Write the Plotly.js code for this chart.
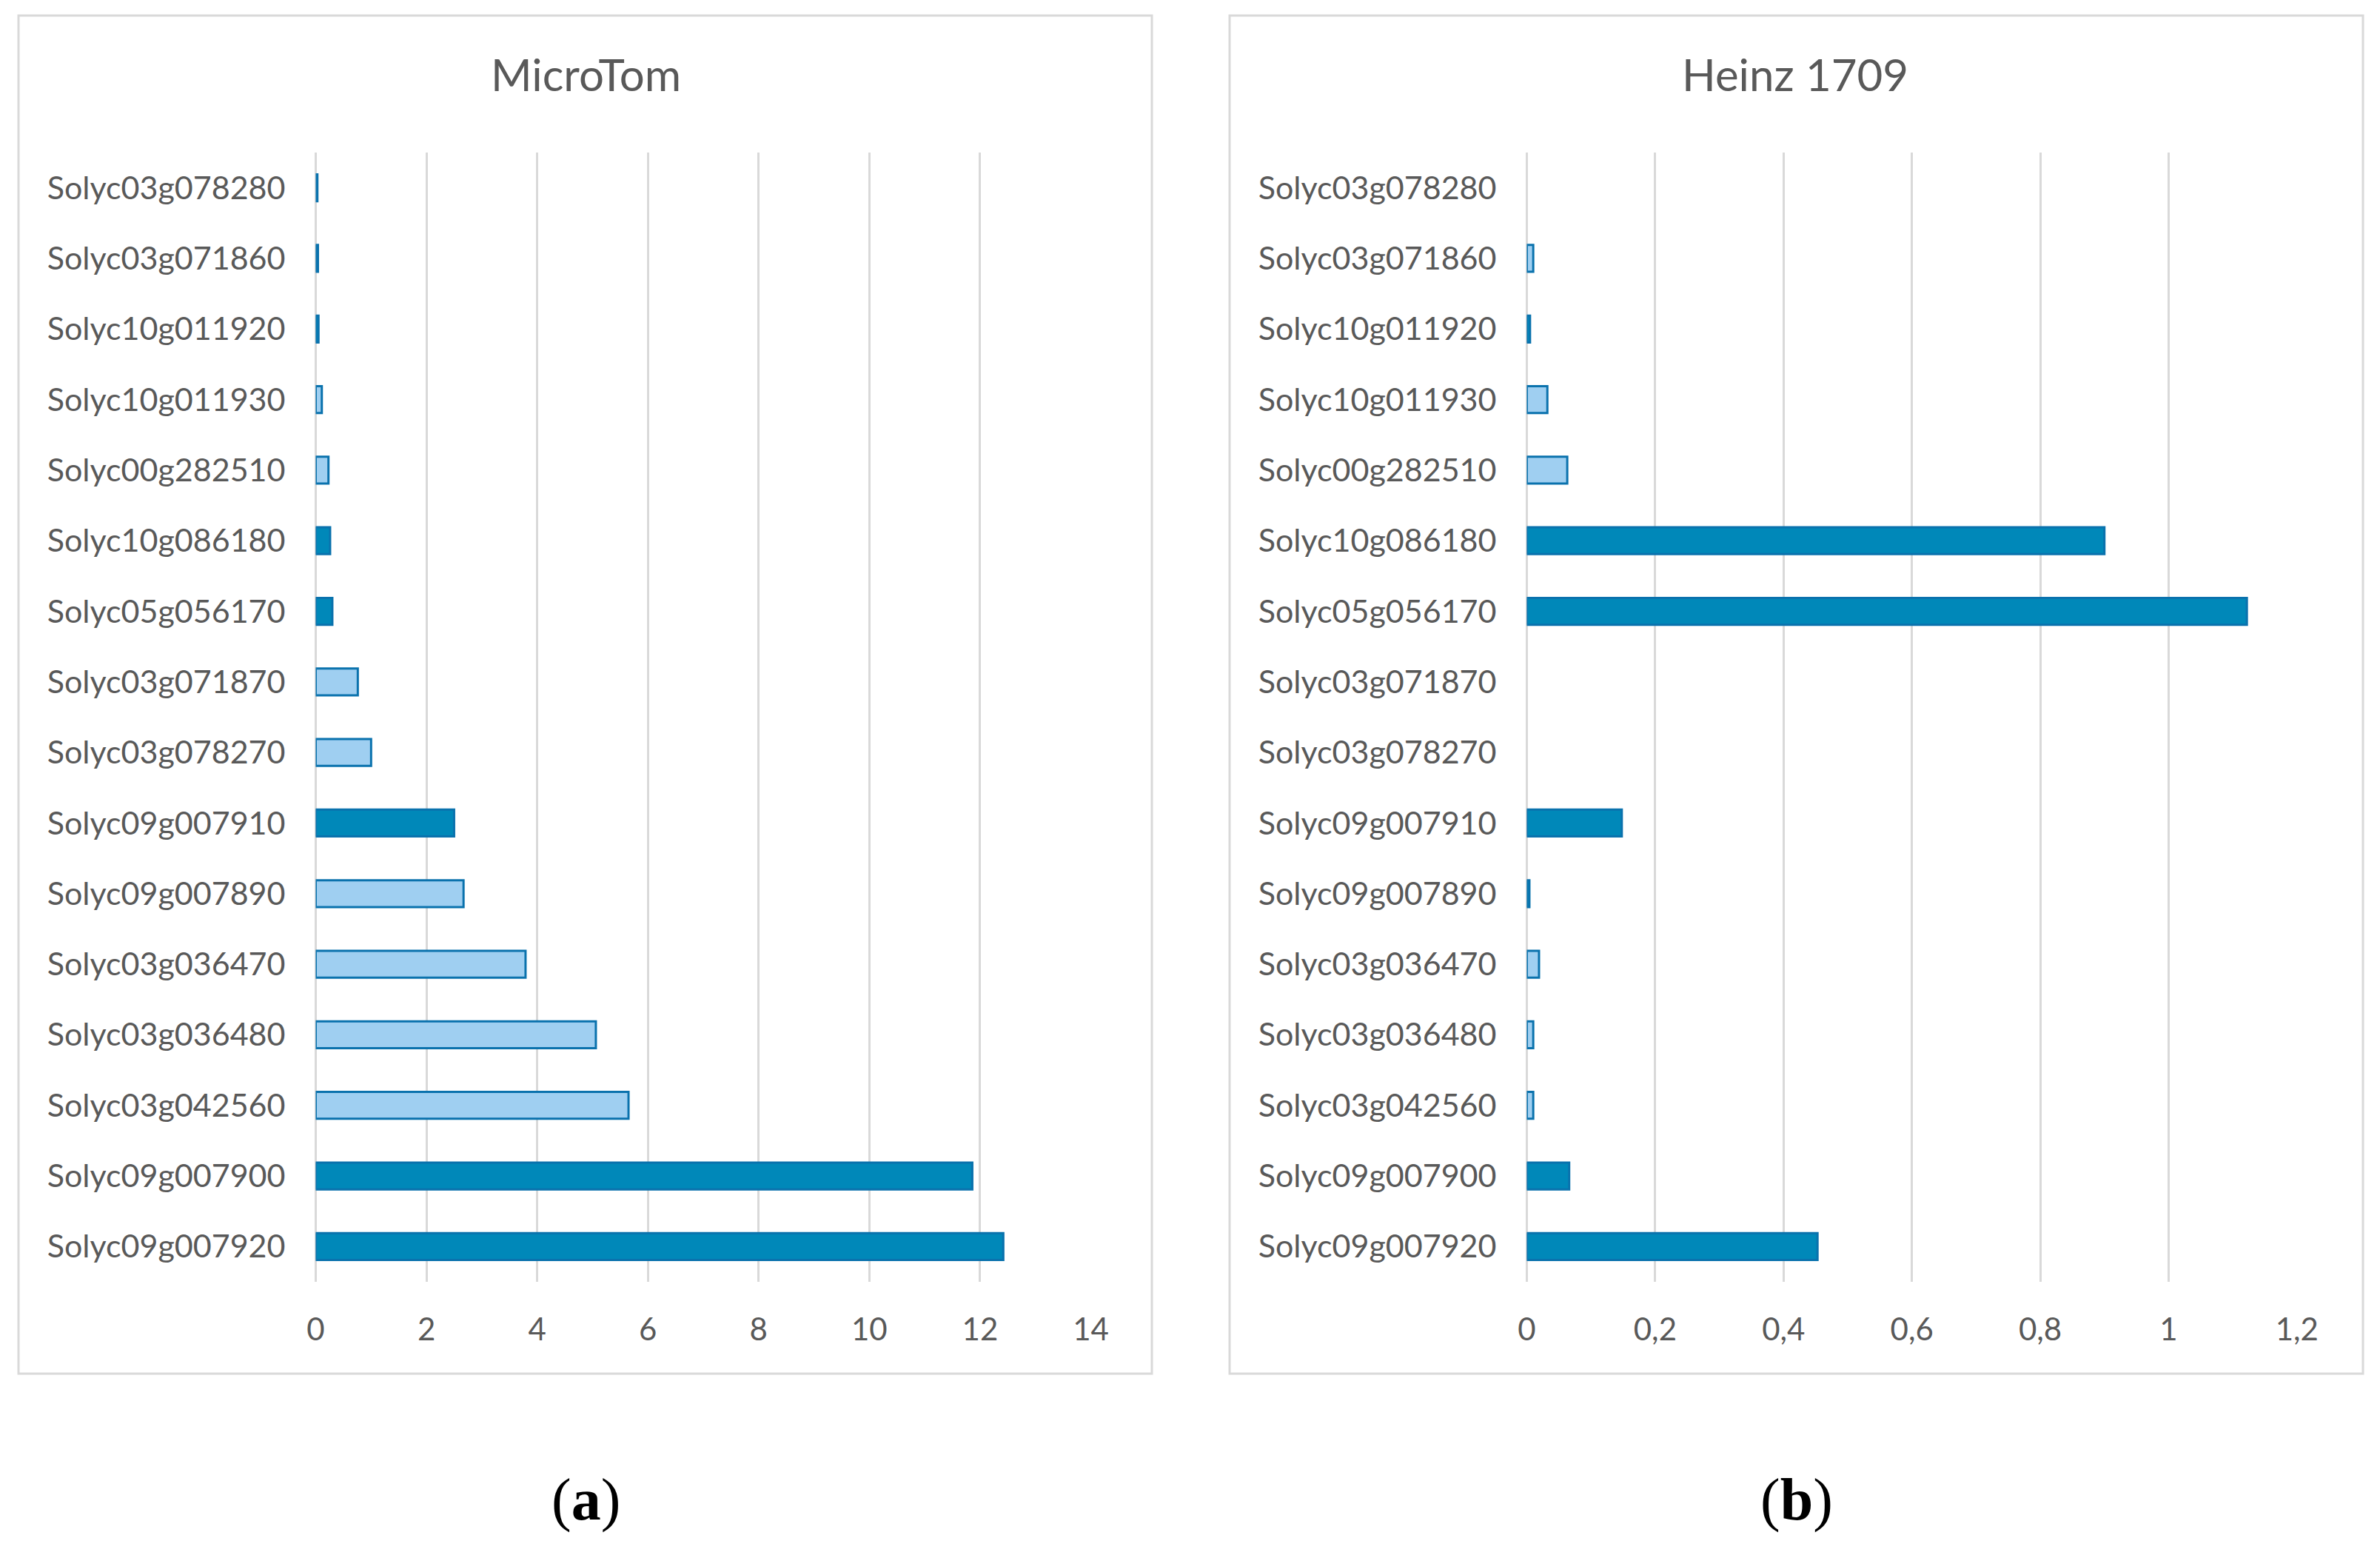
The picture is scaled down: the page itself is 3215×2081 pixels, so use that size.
<!DOCTYPE html>
<html>
<head>
<meta charset="utf-8">
<script src="https://cdn.plot.ly/plotly-3.0.1.min.js"></script>
<style>html,body{margin:0;padding:0;background:#fff;}#chart{width:3215px;height:2081px;}</style>
</head>
<body>
<div id="chart"></div>
<script>
// Gene categories, top to bottom as drawn
const genes = ["Solyc03g078280","Solyc03g071860","Solyc10g011920","Solyc10g011930","Solyc00g282510","Solyc10g086180","Solyc05g056170","Solyc03g071870","Solyc03g078270","Solyc09g007910","Solyc09g007890","Solyc03g036470","Solyc03g036480","Solyc03g042560","Solyc09g007900","Solyc09g007920"];

// MicroTom values
const microTomValues = [0.03,0.04,0.05,0.11,0.23,0.26,0.30,0.76,1.00,2.50,2.67,3.79,5.06,5.65,11.86,12.42];
// MicroTom bar group (D = dark, L = light)
const microTomGroup = ["L","D","D","L","L","D","D","L","L","D","L","L","L","L","D","D"];

// Heinz 1709 values
const heinzValues = [0,0.010,0.005,0.032,0.063,0.900,1.122,0,0,0.148,0.004,0.019,0.010,0.010,0.066,0.453];
const heinzGroup = ["L","L","D","L","L","D","D","L","L","D","D","L","L","L","D","D"];

const panelTitles = ["MicroTom","Heinz 1709"];
const panelLetters = ["a","b"];
const microTomTicks = [0,2,4,6,8,10,12,14];
const heinzTicks = [0,0.2,0.4,0.6,0.8,1,1.2];

const W = 3215, H = 2081;
const DARK = "#0088b9", LIGHT = "#9fcff1", EDGE = "#0a72ad";
const fillOf = g => g === "D" ? DARK : LIGHT;
const edgeOf = v => v > 0 ? 3 : 0;
const fx = px => px / W;
const fy = py => 1 - py / H;

const traces = [
  {type:"bar", orientation:"h", x:microTomValues, y:genes, xaxis:"x", yaxis:"y",
   marker:{color:microTomGroup.map(fillOf), line:{color:EDGE, width:microTomValues.map(edgeOf)}}, hoverinfo:"x+y"},
  {type:"bar", orientation:"h", x:heinzValues, y:genes, xaxis:"x2", yaxis:"y2",
   marker:{color:heinzGroup.map(fillOf), line:{color:EDGE, width:heinzValues.map(edgeOf)}}, hoverinfo:"x+y"}
];

const labelFont = {family:"Lato, 'Open Sans', sans-serif", size:43, color:"#595959"};
const tickFont = {family:"Lato, 'Open Sans', sans-serif", size:42, color:"#595959"};
const yTop = fy(206), yBot = fy(1731);

function xAxis(domain, range, ticks){
  return {domain:domain, range:range, tickvals:ticks, showgrid:true, gridcolor:"#d9d9d9", gridwidth:3,
    zeroline:true, zerolinecolor:"#d9d9d9", zerolinewidth:3, showline:false, ticks:"",
    tickfont:tickFont, ticklabelstandoff:36, fixedrange:true};
}
function yAxis(anchor){
  return {domain:[yBot,yTop], anchor:anchor, type:"category", categoryorder:"array", categoryarray:genes,
    range:[genes.length-0.5,-0.5], showgrid:false, zeroline:false, showline:false, ticks:"",
    tickfont:labelFont, ticklabelstandoff:40, fixedrange:true};
}

const titleFont = {family:"Lato, 'Open Sans', sans-serif", size:60, color:"#595959"};
const letterFont = {family:"'Liberation Serif', 'DejaVu Serif', serif", size:80, color:"#000"};

const layout = {
  width:W, height:H, margin:{l:0,r:0,t:0,b:0}, paper_bgcolor:"#fff", plot_bgcolor:"rgba(0,0,0,0)",
  showlegend:false, bargap:0.62, separators:",.",
  xaxis: Object.assign(xAxis([fx(426.5), fx(1473.5)], [0,14], microTomTicks), {anchor:"y"}),
  yaxis: yAxis("x"),
  xaxis2: Object.assign(xAxis([fx(2062.5), fx(3102.8)], [0,1.2], heinzTicks), {anchor:"y2"}),
  yaxis2: yAxis("x2"),
  shapes:[
    {type:"rect", xref:"paper", yref:"paper", x0:fx(25), x1:fx(1556), y0:fy(1855), y1:fy(21), line:{color:"#d9d9d9", width:3}, layer:"below"},
    {type:"rect", xref:"paper", yref:"paper", x0:fx(1661), x1:fx(3192), y0:fy(1855), y1:fy(21), line:{color:"#d9d9d9", width:3}, layer:"below"}
  ],
  annotations:[
    {text:panelTitles[0], xref:"paper", yref:"paper", x:fx(791), y:fy(100), xanchor:"center", yanchor:"middle", showarrow:false, font:titleFont},
    {text:panelTitles[1], xref:"paper", yref:"paper", x:fx(2425), y:fy(100), xanchor:"center", yanchor:"middle", showarrow:false, font:titleFont},
    {text:"(<b>"+panelLetters[0]+"</b>)", xref:"paper", yref:"paper", x:fx(791), y:fy(2025), xanchor:"center", yanchor:"middle", showarrow:false, font:letterFont},
    {text:"(<b>"+panelLetters[1]+"</b>)", xref:"paper", yref:"paper", x:fx(2427), y:fy(2025), xanchor:"center", yanchor:"middle", showarrow:false, font:letterFont}
  ]
};

Plotly.newPlot("chart", traces, layout, {displayModeBar:false, staticPlot:true});
</script>
</body>
</html>
